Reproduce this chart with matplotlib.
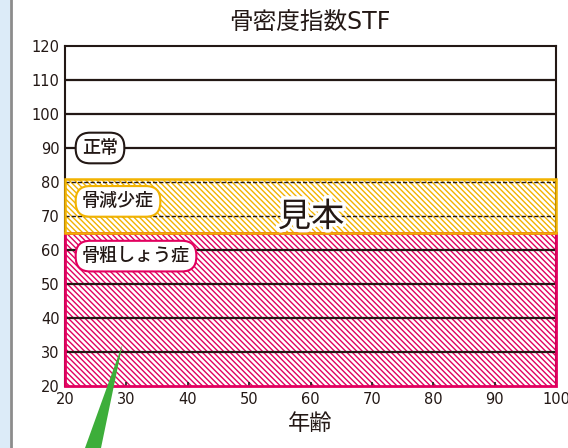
import matplotlib
matplotlib.use("Agg")
import matplotlib.pyplot as plt
from matplotlib.patches import Rectangle, Polygon
import matplotlib.patheffects as pe

plt.rcParams['font.family'] = ['DejaVu Sans', 'Noto Sans CJK JP']

title = "骨密度指数STF"
xlabel = "年齢"
x_ticks = [20, 30, 40, 50, 60, 70, 80, 90, 100]
y_ticks = [20, 30, 40, 50, 60, 70, 80, 90, 100, 110, 120]
zone_names = ["骨粗しょう症", "骨減少症", "正常"]
zone_low = [20, 65, 81]
zone_high = [65, 81, 120]
label_y = [58.2, 74.3, 90]
solid_lines = [30, 40, 50, 60, 90, 100, 110]
dashed_lines = [70, 80]

red = "#E2005F"
orange = "#F2B300"
ink = "#231815"
cjk = ['Noto Sans CJK JP', 'DejaVu Sans']

fig = plt.figure(figsize=(5.68, 4.48), dpi=100)
fig.patch.set_facecolor("white")
fig.patches.append(Rectangle((0, 0), 9.5/568, 1, transform=fig.transFigure, facecolor="#DCEBF8", edgecolor="none", zorder=0))
fig.lines.append(plt.Line2D([10.5/568, 10.5/568], [0, 1], transform=fig.transFigure, color="#8C8C8C", lw=2))

ax = fig.add_axes([65/568, 1-386/448, (556-65)/568, (386-46)/448])
ax.set_xlim(20, 100)
ax.set_ylim(20, 120)

plt.rcParams['hatch.linewidth'] = 1.0
ax.add_patch(Rectangle((20, zone_low[0]), 80, zone_high[0]-zone_low[0], facecolor="white",
                       edgecolor=red, hatch="\\\\\\\\\\\\", lw=0, zorder=1))
ax.add_patch(Rectangle((20, zone_low[0]), 80, zone_high[0]-zone_low[0], facecolor="none",
                       edgecolor=red, lw=2, zorder=4, clip_on=False))
ax.add_patch(Rectangle((20, zone_low[1]), 80, zone_high[1]-zone_low[1], facecolor="white",
                       edgecolor=orange, hatch="\\\\\\\\\\\\", lw=0, zorder=1))
ax.add_patch(Rectangle((20, zone_low[1]), 80, zone_high[1]-zone_low[1], facecolor="none",
                       edgecolor=orange, lw=1.8, zorder=4, clip_on=False))

for v in solid_lines:
    ax.axhline(v, color=ink, lw=1.6, zorder=2)
for v in dashed_lines:
    ax.axhline(v, color=ink, lw=1.0, ls=(0, (3, 1.5)), zorder=2)

for s in ax.spines.values():
    s.set_color(ink)
    s.set_linewidth(1.5)
ax.spines['bottom'].set_visible(False)
ax.spines['left'].set_zorder(3)

ax.set_xticks(x_ticks)
ax.set_yticks(y_ticks)
ax.tick_params(axis='x', direction='in', length=3, width=1.2, color=ink, labelsize=10.5, pad=4)
ax.tick_params(axis='y', length=0, labelsize=10.5, pad=4)
for lab in ax.get_xticklabels() + ax.get_yticklabels():
    lab.set_color(ink)

fig.text(310/568, 1-22/448, title, fontsize=17, ha="center", va="center", color=ink)
ax.set_xlabel(xlabel, fontsize=16, color=ink, family=cjk, va="center")
ax.xaxis.set_label_coords(0.5, -(423-386)/340)

edge_cols = [red, orange, ink]
for name, yv, ec in zip(zone_names, label_y, edge_cols):
    ax.text(22.77, yv, name, fontsize=13, ha="left", va="center", color=ink, zorder=6, family=cjk,
            fontweight="medium",
            bbox=dict(boxstyle="round,pad=0.35,rounding_size=0.8", facecolor="white", edgecolor=ec, lw=1.5))

ax.text(60.1, 69.7, "見本", fontsize=24, ha="center", va="center", color=ink, zorder=6, family=cjk,
        path_effects=[pe.withStroke(linewidth=5, foreground="white")])

arrow_tip = (29.4, 32.5)
tip_px = ax.transData.transform(arrow_tip)
tip_fig = fig.transFigure.inverted().transform(tip_px)
fig.patches.append(Polygon([tip_fig, (85/568, 0), (101/568, 0)], closed=True, transform=fig.transFigure,
                           facecolor="#3DAE3A", edgecolor="none", zorder=10))

fig.savefig("out.png", dpi=100)
